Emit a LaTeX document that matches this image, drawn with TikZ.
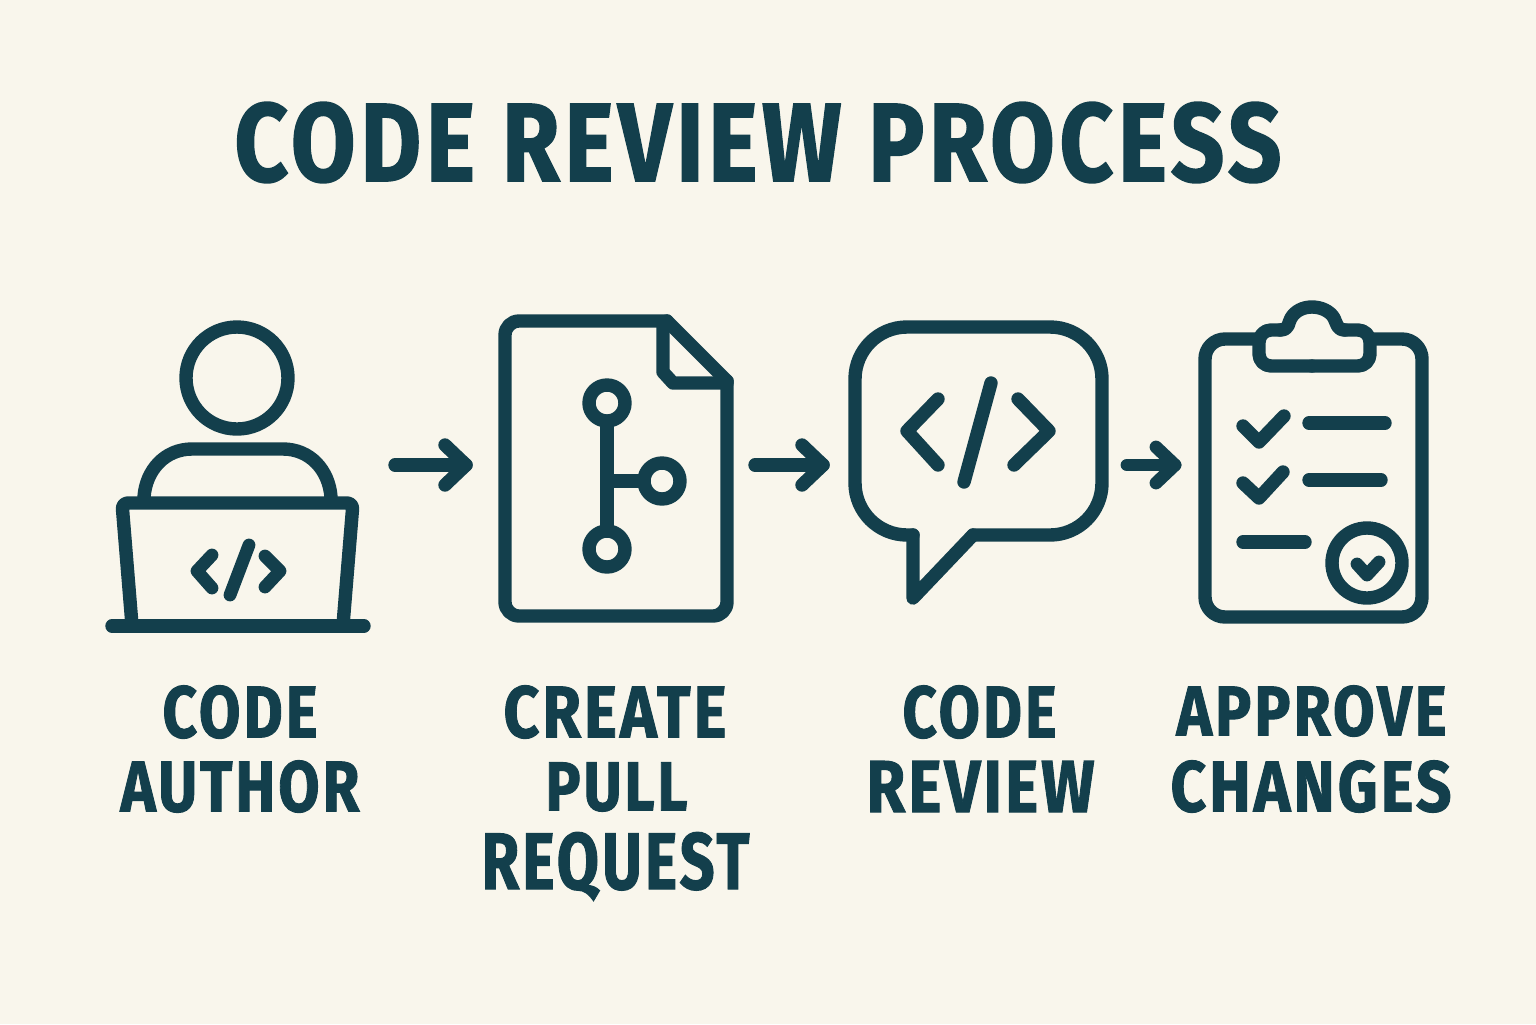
\documentclass[tikz,border=0pt]{standalone}
\usepackage{fontspec}
\setmainfont[LetterSpace=5,FakeBold=1.4]{Fira Sans}
\usepackage{graphicx}
\definecolor{ink}{HTML}{133F4C}
\definecolor{paper}{HTML}{F9F6EC}
\newcommand{\fitbox}[3]{\resizebox{#1pt}{#2pt}{\bfseries\fontsize{40}{40}\selectfont #3}}
\tikzset{
  icon/.style={draw=ink,line width=6.7pt,line cap=round,line join=round},
  thinicon/.style={icon,line width=6.4pt},
  lab/.style={text=ink,inner sep=0pt,outer sep=0pt,anchor=center}
}
\begin{document}
\begin{tikzpicture}[x=0.5pt,y=-0.5pt]
\fill[paper] (0,0) rectangle (1536,1024);
\useasboundingbox (0,0) rectangle (1536,1024);
% title
\node[lab] (title) at (758,142.5) {\fitbox{523.5}{39.5}{CODE REVIEW PROCESS}};
% labels
\node[lab] (l1a) at (240,712) {\fitbox{77.5}{26}{CODE}};
\node[lab] (l1b) at (240,786.5) {\fitbox{119.5}{25.5}{AUTHOR}};
\node[lab] (l2a) at (615,712) {\fitbox{111.5}{26}{CREATE}};
\node[lab] (l2b) at (616.5,787) {\fitbox{71}{24}{PULL}};
\node[lab] (l2c) at (615.5,866.5) {\fitbox{134}{28.5}{REQUEST}};
\node[lab] (l3a) at (979.5,712) {\fitbox{77}{26}{CODE}};
\node[lab] (l3b) at (980.5,786.5) {\fitbox{114}{25.5}{REVIEW}};
\node[lab] (l4a) at (1311.5,711) {\fitbox{135}{25}{APPROVE}};
\node[lab] (l4b) at (1311,786.5) {\fitbox{140.5}{25.5}{CHANGES}};
% person
\draw[icon] (237,378) circle[radius=51];
\draw[icon] (144,497) .. controls (146,470) and (165,449) .. (192,449) -- (283,449) .. controls (310,449) and (329,470) .. (331,497);
\draw[icon,rounded corners=3pt] (132,625) -- (122,503) -- (353,503) -- (343,625);
\draw[icon] (112,626) -- (364,626);
\draw[thinicon] (212,555) -- (197,571) -- (212,588);
\draw[thinicon] (265,556) -- (280,571) -- (265,587);
\draw[thinicon] (249,545) -- (230,595);
% document
\draw[icon,rounded corners=7pt] (667,321) -- (505,321) -- (505,616) -- (727,616) -- (727,381);
\draw[icon] (667,321) -- (727,381);
\draw[icon] (663,322) -- (663,372) -- (673,383) -- (727,383);
\draw[icon] (607,403) circle[radius=18];
\draw[icon] (662,481) circle[radius=18];
\draw[icon] (607,549) circle[radius=18];
\draw[icon,line cap=butt] (607,421) -- (607,531);
\draw[icon,line cap=butt] (607,481) -- (644,481);
% bubble
\draw[icon,rounded corners=26pt] (913,535) -- (855,535) -- (855,327) -- (1102,327) -- (1102,535) -- (973,535);
\draw[icon] (913,535) -- (913,598) -- (973,535);
\draw[icon] (938,399) -- (907,431) -- (938,465);
\draw[icon] (1018,399) -- (1049,431) -- (1014,465);
\draw[icon] (991,383) -- (964,482);
% clipboard
\draw[icon,rounded corners=10pt] (1259,339) -- (1205,339) -- (1205,617) -- (1422,617) -- (1422,339) -- (1370,339);
\draw[icon,rounded corners=6pt] (1312,366) -- (1259,366) -- (1259,330) -- (1280,330);
\draw[icon,rounded corners=6pt] (1312,366) -- (1370,366) -- (1370,330) -- (1345,330);
\draw[icon] (1280,330) .. controls (1290,330) and (1288,322) .. (1291,318) .. controls (1295,311) and (1303,307) .. (1312,307) .. controls (1321,307) and (1330,311) .. (1334,318) .. controls (1337,324) and (1337,330) .. (1345,330);
\draw[icon] (1243,426) -- (1259,442) -- (1284,416);
\draw[icon] (1309,423) -- (1385,423);
\draw[icon] (1243,483) -- (1259,498) -- (1283,472);
\draw[icon] (1309,480) -- (1381,480);
\draw[icon] (1243,542) -- (1305,542);
\draw[icon] (1367,563) circle[radius=35];
\draw[thinicon] (1357,564) -- (1367,575) -- (1379,562);
% arrows
\coordinate (a1s) at (395,465); \coordinate (a1e) at (466,465);
\coordinate (a2s) at (755,465); \coordinate (a2e) at (823,465);
\coordinate (a3s) at (1127,465); \coordinate (a3e) at (1175,465);
\draw[icon] (a1s) -- (a1e);
\draw[icon] (a1e) ++(-21,-20) -- (a1e) -- ++(-21,20);
\draw[icon] (a2s) -- (a2e);
\draw[icon] (a2e) ++(-21,-20) -- (a2e) -- ++(-21,20);
\draw[thinicon] (a3s) -- (a3e);
\draw[thinicon] (a3e) ++(-19,-18) -- (a3e) -- ++(-19,18);
\end{tikzpicture}
\end{document}
